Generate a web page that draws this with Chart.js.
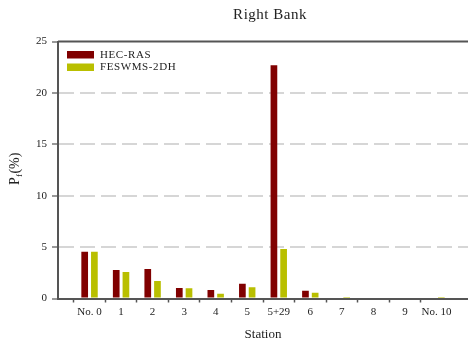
<!DOCTYPE html>
<html>
<head>
<meta charset="utf-8">
<script src="https://cdn.jsdelivr.net/npm/chart.js@4/dist/chart.umd.min.js"></script>
<style>
  html, body { margin: 0; padding: 0; background: #ffffff; }
  #wrap { width: 468px; height: 343px; }
</style>
</head>
<body>
<div id="wrap"><canvas id="chart" width="468" height="343"></canvas></div>
<script>
// Stations along the right bank (blank slots pad both ends of the axis)
const stations = ['No. 0', '1', '2', '3', '4', '5', '5+29', '6', '7', '8', '9', 'No. 10'];
// Failure probability Pf (%) per station
const hecRas   = [4.55, 2.77, 2.87, 1.02, 0.83, 1.44, 22.7, 0.76, 0, 0, 0, 0];
const feswms   = [4.55, 2.58, 1.70, 1.00, 0.47, 1.09, 4.82, 0.56, 0.15, 0, 0, 0.15];
const yTicks   = [0, 5, 10, 15, 20, 25];

const SERIF = '"Liberation Serif", "Times New Roman", serif';
const TEXT = '#222222';
const AXIS = '#555555';

const labels = [''].concat(stations, ['']);
const pad = arr => [null].concat(arr, [null]);

// Title, axis titles (with subscript) and in-plot legend
const decorations = {
  id: 'decorations',
  afterDraw(chart) {
    const { ctx, chartArea: a } = chart;
    ctx.save();
    // solid frame line along the top of the plot
    ctx.strokeStyle = AXIS;
    ctx.lineWidth = 2;
    ctx.beginPath();
    ctx.moveTo(a.left, a.top);
    ctx.lineTo(a.right, a.top);
    ctx.stroke();

    ctx.fillStyle = TEXT;
    ctx.textAlign = 'center';
    ctx.textBaseline = 'middle';
    ctx.font = '15px ' + SERIF;
    ctx.letterSpacing = '0.5px';
    ctx.fillText('Right Bank', 270, 15);
    ctx.letterSpacing = '0px';

    ctx.font = '13px ' + SERIF;
    ctx.fillText('Station', 263, 335);

    // y-axis title: P with subscript f, then (%)
    ctx.translate(14, 169);
    ctx.rotate(-Math.PI / 2);
    ctx.textAlign = 'left';
    ctx.textBaseline = 'alphabetic';
    ctx.font = '14px ' + SERIF;
    const wP = ctx.measureText('P').width;
    ctx.font = '9px ' + SERIF;
    const wf = ctx.measureText('f').width;
    ctx.font = '14px ' + SERIF;
    const wPct = ctx.measureText('(%)').width;
    let x = -(wP + wf + wPct) / 2;
    ctx.fillText('P', x, 5);
    x += wP;
    ctx.font = '9px ' + SERIF;
    ctx.fillText('f', x, 8);
    x += wf + 0.5;
    ctx.font = '14px ' + SERIF;
    ctx.fillText('(%)', x, 5);
    ctx.setTransform(1, 0, 0, 1, 0, 0);

    // legend in the upper-left corner of the plot
    ctx.font = '11px ' + SERIF;
    ctx.letterSpacing = '0.6px';
    ctx.textAlign = 'left';
    ctx.textBaseline = 'middle';
    chart.data.datasets.forEach((ds, i) => {
      const y = 51 + i * 12.5;
      ctx.fillStyle = ds.backgroundColor;
      ctx.fillRect(67, y, 27, 7.5);
      ctx.fillStyle = TEXT;
      ctx.fillText(ds.label, 100, y + 4);
    });
    ctx.restore();
  }
};

new Chart(document.getElementById('chart'), {
  type: 'bar',
  data: {
    labels: labels,
    datasets: [
      { label: 'HEC-RAS', data: pad(hecRas), backgroundColor: '#800000' },
      { label: 'FESWMS-2DH', data: pad(feswms), backgroundColor: '#b9bf00' }
    ]
  },
  options: {
    responsive: false,
    animation: false,
    devicePixelRatio: 1,
    categoryPercentage: 0.615,
    barPercentage: 0.69,
    layout: { padding: { top: 41.5, left: 0, right: 0, bottom: 0 } },
    plugins: {
      legend: { display: false },
      title: { display: false },
      tooltip: { enabled: false }
    },
    scales: {
      x: {
        offset: false,
        afterFit(scale) {
          scale.height = 44.5;
          scale.paddingLeft = 0;
          scale.paddingRight = 0;
        },
        grid: {
          drawOnChartArea: false,
          drawTicks: true,
          tickLength: 4,
          tickWidth: 1.5,
          tickColor: ctx => (labels[ctx.index] === '' ? 'rgba(0,0,0,0)' : AXIS)
        },
        border: { display: true, color: AXIS, width: 2 },
        ticks: {
          color: TEXT,
          font: { family: SERIF, size: 11 },
          padding: 3,
          maxRotation: 0,
          autoSkip: false
        }
      },
      y: {
        min: 0,
        max: 25,
        afterFit(scale) {
          scale.width = 58;
          scale.paddingTop = 0;
          scale.paddingBottom = 0;
        },
        afterBuildTicks(scale) { scale.ticks = yTicks.map(v => ({ value: v })); },
        grid: {
          color: ctx => (ctx.tick && ctx.tick.value > 0 && ctx.tick.value < 25 ? '#d6d6d6' : 'rgba(0,0,0,0)'),
          lineWidth: 2,
          drawTicks: true,
          tickLength: 6,
          tickWidth: 1.2,
          tickColor: AXIS,
          tickBorderDash: []
        },
        border: { display: true, color: AXIS, width: 2, dash: [15, 6] },
        ticks: {
          color: TEXT,
          font: { family: SERIF, size: 11 },
          padding: 5
        }
      }
    }
  },
  plugins: [decorations]
});
</script>
</body>
</html>
